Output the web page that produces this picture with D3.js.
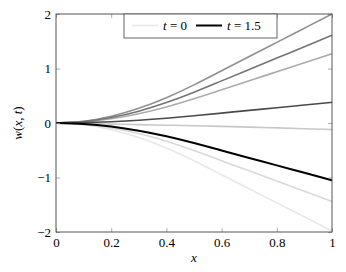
<!DOCTYPE html>
<html>
<head>
<meta charset="utf-8">
<script src="https://cdn.jsdelivr.net/npm/d3@7"></script>
<style>
  body { margin: 0; background: #fff; }
  svg text { font-family: "Liberation Serif", "Times New Roman", serif; }
</style>
</head>
<body>
<svg id="chart" width="346" height="272"></svg>
<script>
// x positions shared by every curve
const xs = [0, 0.1, 0.2, 0.3, 0.4, 0.5, 0.6, 0.7, 0.8, 0.9, 1];

// curves
const wA = [0, 0.032, 0.124, 0.270, 0.464, 0.700, 0.960, 1.220, 1.480, 1.740, 2.000];
const wB = [0, 0.026, 0.100, 0.217, 0.374, 0.564, 0.773, 0.982, 1.191, 1.401, 1.610];
const wC = [0, 0.020, 0.079, 0.171, 0.295, 0.445, 0.610, 0.775, 0.940, 1.105, 1.270];
const wD = [0, 0.006, 0.024, 0.051, 0.088, 0.133, 0.182, 0.232, 0.281, 0.331, 0.380];
const wE = [0, -0.008, -0.020, -0.030, -0.040, -0.050, -0.062, -0.075, -0.090, -0.105, -0.120];
const wF = [0, -0.017, -0.065, -0.142, -0.244, -0.368, -0.504, -0.641, -0.777, -0.914, -1.050];
const wG = [0, -0.023, -0.089, -0.194, -0.334, -0.504, -0.691, -0.878, -1.066, -1.253, -1.440];
const wH = [0, -0.032, -0.123, -0.267, -0.459, -0.693, -0.950, -1.208, -1.465, -1.723, -1.980];

// drawing order: light ones first, the black t = 1.5 curve last
const seriesList = [wH, wG, wE, wC, wA, wB, wD, wF];
const seriesColors = ["#e8e8e8", "#d9d9d9", "#c8c8c8", "#ababab", "#909090", "#747474", "#4a4a4a", "#000000"];
const seriesWidths = [1.6, 1.6, 1.6, 1.6, 1.6, 1.6, 1.6, 2];

const xTicks = [0, 0.2, 0.4, 0.6, 0.8, 1];
const xTickLabels = ["0", "0.2", "0.4", "0.6", "0.8", "1"];
const yTicks = [-2, -1, 0, 1, 2];
const yTickLabels = ["\u22122", "\u22121", "0", "1", "2"];

const legendLabels = ["0", "1.5"];
const legendColors = ["#e8e8e8", "#000000"];

const FONT = "'Liberation Serif', 'Times New Roman', serif";

let svg = d3.select("#chart");
let margin = {top: 14, right: 14, bottom: 40, left: 56};
let width = +svg.attr("width") - margin.left - margin.right;
let height = +svg.attr("height") - margin.top - margin.bottom;

let x_scale = d3.scaleLinear().domain([0, 1]).range([0, width]);
let y_scale = d3.scaleLinear().domain([-2, 2]).range([height, 0]);

let g = svg.append("g")
    .attr("transform", `translate(${margin.left},${margin.top})`);

// curves
let line = d3.line()
    .x(d => x_scale(d[0]))
    .y(d => y_scale(d[1]))
    .curve(d3.curveNatural);

seriesList.forEach((s, i) => {
    g.append("path")
        .datum(xs.map((x, j) => [x, s[j]]))
        .attr("fill", "none")
        .attr("stroke", seriesColors[i])
        .attr("stroke-width", seriesWidths[i])
        .attr("d", line);
});

// ticks, pointing inward on all four sides
function styleTicks(sel) {
    sel.attr("font-family", null).attr("font-size", null);
    sel.select(".domain").remove();
    sel.selectAll(".tick line").attr("stroke", "#999").attr("stroke-width", 0.8);
    sel.selectAll(".tick text")
        .style("font-size", "13px")
        .style("font-family", FONT)
        .attr("fill", "#000");
}

g.append("g")
    .attr("transform", `translate(0,${height})`)
    .call(d3.axisBottom(x_scale).tickValues(xTicks)
        .tickFormat((d, i) => xTickLabels[i]).tickSizeInner(-4).tickSizeOuter(0).tickPadding(6))
    .call(styleTicks);

g.append("g")
    .call(d3.axisTop(x_scale).tickValues(xTicks).tickFormat("").tickSizeInner(-4).tickSizeOuter(0))
    .call(styleTicks);

g.append("g")
    .call(d3.axisLeft(y_scale).tickValues(yTicks)
        .tickFormat((d, i) => yTickLabels[i]).tickSizeInner(-4).tickSizeOuter(0).tickPadding(5))
    .call(styleTicks);

g.append("g")
    .attr("transform", `translate(${width},0)`)
    .call(d3.axisRight(y_scale).tickValues(yTicks).tickFormat("").tickSizeInner(-4).tickSizeOuter(0))
    .call(styleTicks);

// frame
g.append("rect")
    .attr("x", 0).attr("y", 0)
    .attr("width", width).attr("height", height)
    .attr("fill", "none")
    .attr("stroke", "#444")
    .attr("stroke-width", 0.9);

// legend
let lg = svg.append("g").attr("transform", "translate(124,14)");
lg.append("rect")
    .attr("x", 0).attr("y", 0)
    .attr("width", 153).attr("height", 24)
    .attr("fill", "#fff")
    .attr("stroke", "#555")
    .attr("stroke-width", 0.9);

let legendX = [8, 72];
legendLabels.forEach((lab, i) => {
    let x0 = legendX[i];
    lg.append("line")
        .attr("x1", x0).attr("x2", x0 + 26)
        .attr("y1", 11.5).attr("y2", 11.5)
        .attr("stroke", legendColors[i])
        .attr("stroke-width", i === 1 ? 2 : 1.6);
    let t = lg.append("text")
        .attr("x", x0 + 31)
        .attr("y", 16)
        .style("font-family", FONT)
        .style("font-size", "13px");
    t.append("tspan").style("font-style", "italic").text("t");
    t.append("tspan").text(" = " + lab);
});

// x label
svg.append("text")
    .attr("x", margin.left + width / 2)
    .attr("y", 262)
    .attr("text-anchor", "middle")
    .style("font-family", FONT)
    .style("font-size", "13px")
    .style("font-style", "italic")
    .text("x");

// y label
let yl = svg.append("text")
    .attr("transform", `translate(22,${margin.top + height / 2}) rotate(-90)`)
    .attr("text-anchor", "middle")
    .style("font-family", FONT)
    .style("font-size", "13px");
yl.append("tspan").style("font-style", "italic").text("w");
yl.append("tspan").text("(");
yl.append("tspan").style("font-style", "italic").text("x");
yl.append("tspan").text(", ");
yl.append("tspan").style("font-style", "italic").text("t");
yl.append("tspan").text(")");
</script>
</body>
</html>
